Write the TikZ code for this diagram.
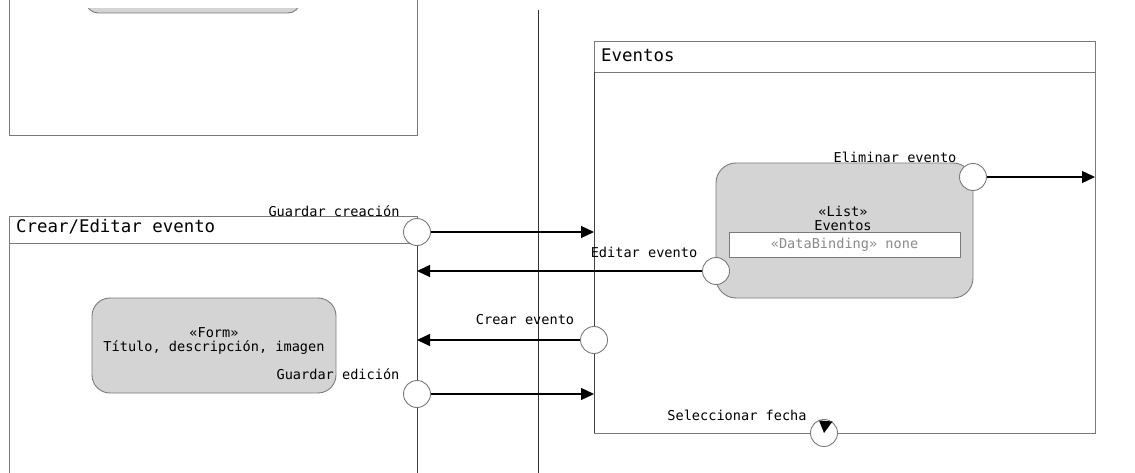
\documentclass[tikz,border=0pt]{standalone}
\usepackage{fontspec}
\setmonofont{DejaVu Sans Mono}
\usetikzlibrary{arrows.meta}
\definecolor{frameline}{HTML}{7A7A7A}
\definecolor{panelfill}{HTML}{D4D4D4}
\definecolor{bindtext}{HTML}{8A8A8A}
\tikzset{
  frame/.style={draw=frameline, line width=0.9pt},
  panel/.style={draw=frameline, fill=panelfill, line width=0.9pt, rounded corners=20pt},
  port/.style={circle, draw=frameline, fill=white, line width=0.9pt, minimum size=27pt, inner sep=0pt},
  flow/.style={line width=1.3pt, -{Triangle[length=13pt,width=12pt]}},
  lbl/.style={font=\ttfamily\fontsize{13.6}{14.5}\selectfont, inner sep=0pt},
  title/.style={font=\ttfamily\fontsize{17.4}{18}\selectfont, inner sep=0pt, anchor=base west},
}
\begin{document}
\begin{tikzpicture}[x=1pt,y=-1pt]
\useasboundingbox (0,0) rectangle (1135,473);
\clip (0,0) rectangle (1135,473);

% screen above, only its lower part shows
\begin{scope}
  \clip (0,9) rectangle (1135,20);
  \draw[panel, rounded corners=12pt] (86,-30) rectangle (300,13);
\end{scope}
\draw[frame] (9,-5) -- (9,135) -- (417,135) -- (417,-5);

% swimlane separator
\draw[line width=0.9pt, black!80] (538,10) -- (538,480);

% Crear/Editar evento screen
\draw[frame] (9,216) rectangle (417,243);
\draw[frame] (9,243) -- (9,480);
\draw[line width=0.9pt, black!75] (417,243) -- (417,480);
\node[title] (ceTitle) at (16,233) {Crear/Editar evento};

\node[panel, minimum width=244pt, minimum height=95pt, rounded corners=18pt] (form) at (214,345.5) {};
\node[lbl, align=center] (formText) at (214,341) {«Form»\\Título, descripción, imagen};

% Eventos screen
\draw[frame] (594,41) rectangle (1095,433);
\draw[frame] (594,72) -- (1095,72);
\draw[line width=0.9pt, black!75] (594,72) -- (594,433);
\node[title] (evTitle) at (601,62) {Eventos};

\node[panel, minimum width=257pt, minimum height=135pt] (list) at (844.5,230.5) {};
\node[lbl, align=center] (listText) at (843,218.5) {«List»\\Eventos};
\node[draw=frameline, fill=white, line width=0.8pt, minimum width=231pt, minimum height=25pt, inner sep=0pt,
      font=\ttfamily\fontsize{13.6}{14.5}\selectfont, text=bindtext] (bind) at (844.5,244.5) {«DataBinding» none};

% ports
\node[port] (pGuardarC) at (417,232) {};
\node[port] (pEditar) at (716,271) {};
\node[port] (pEliminar) at (973,177) {};
\node[port] (pCrear) at (594,340) {};
\node[port] (pGuardarE) at (417,394) {};
\node[port] (pFecha) at (824,433) {};

% port labels
\node[lbl] (lGuardarC) at (334,211) {Guardar creación};
\node[lbl] (lEditar) at (644,252) {Editar evento};
\node[lbl] (lEliminar) at (895,157) {Eliminar evento};
\node[lbl] (lCrear) at (525,320) {Crear evento};
\node[lbl] (lGuardarE) at (338,374) {Guardar edición};
\node[lbl] (lFecha) at (737,415) {Seleccionar fecha};

% targets on the screen borders
\coordinate (tEventosC) at (594,232);
\coordinate (tEventosE) at (594,394);
\coordinate (tCEEditar) at (417,271);
\coordinate (tCECrear) at (417,340);
\coordinate (tFuera) at (1095,177);

% transitions
\draw[flow] (pGuardarC.east) -- (tEventosC);
\draw[flow] (pEditar.west) -- (tCEEditar);
\draw[flow] (pEliminar.east) -- (tFuera);
\draw[flow] (pCrear.west) -- (tCECrear);
\draw[flow] (pGuardarE.east) -- (tEventosE);

% entry marker of Seleccionar fecha
\fill[black] (819,420.5) -- (832.5,421.5) -- (824,433) -- cycle;
\end{tikzpicture}
\end{document}
